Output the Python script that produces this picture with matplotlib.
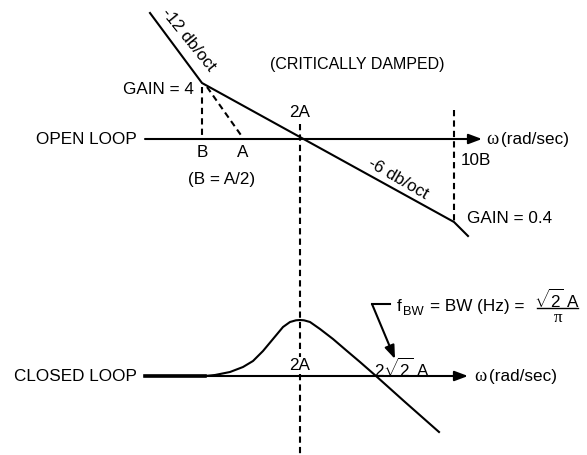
import matplotlib
matplotlib.use("Agg")
import matplotlib.pyplot as plt

plt.rcParams['font.family'] = ['Liberation Sans', 'DejaVu Sans']
plt.rcParams['mathtext.fontset'] = 'custom'
plt.rcParams['mathtext.rm'] = 'Liberation Sans'
plt.rcParams['mathtext.it'] = 'Liberation Sans'

# diagram laid out in pixel space (x right, y down)
open_axis_y = 140
closed_axis_y = 377
axis_start_x = 145
open_arrow_x = 482
closed_arrow_x = 468

# open loop asymptotes: -12 db/oct then -6 db/oct
open_x = [150, 202, 454, 468]
open_y = [14, 84, 223, 237]

# closed loop response
closed_x = [145, 205, 215, 230, 243, 253, 263, 273, 283, 290, 296, 300, 304, 310,
            320, 333, 347, 360, 376, 405, 439]
closed_y = [377, 377, 376, 373, 368, 362, 352, 340, 328, 323, 321.3, 321, 321.3, 323,
            330, 340, 352, 363, 377, 403, 433]

b_x, a_x, two_a_x, ten_b_x = 202, 243, 300, 454

FS = 12.3
lw = 1.5
dash = (0, (3, 2))

fig = plt.figure(figsize=(5.87, 4.56), dpi=100)
ax = fig.add_axes([0, 0, 1, 1])
ax.set_xlim(0, 587)
ax.set_ylim(456, 0)
ax.axis('off')

arrow = dict(arrowstyle='-|>,head_length=0.8,head_width=0.3', color='black', lw=lw,
             shrinkA=0, shrinkB=0)
white_box = dict(facecolor='white', edgecolor='none', pad=0.5)

# ---- open loop ----
ax.text(137, open_axis_y, "OPEN LOOP", fontsize=FS, ha='right', va='center')
ax.annotate("", xy=(open_arrow_x, open_axis_y), xytext=(axis_start_x, open_axis_y), arrowprops=arrow)
ax.text(486, open_axis_y, "ω", fontsize=FS + 1, family='Liberation Serif', ha='left', va='center')
ax.text(501, open_axis_y, "(rad/sec)", fontsize=FS, ha='left', va='center')

ax.plot(open_x, open_y, color='black', lw=lw, solid_joinstyle='miter')
ax.plot([b_x, b_x], [88, open_axis_y], color='black', lw=lw, linestyle=dash)
ax.plot([207, a_x], [88, open_axis_y - 1], color='black', lw=lw, linestyle=dash)
ax.plot([ten_b_x, ten_b_x], [111, open_y[2]], color='black', lw=lw, linestyle=dash)
ax.plot([two_a_x, two_a_x], [125, 456], color='black', lw=lw, linestyle=dash)

ax.text(b_x, 153, "B", fontsize=FS, ha='center', va='center')
ax.text(a_x, 153, "A", fontsize=FS, ha='center', va='center')
ax.text(222, 180, "(B = A/2)", fontsize=FS, ha='center', va='center')
ax.text(194, 89, "GAIN = 4", fontsize=FS, ha='right', va='center')
ax.text(188, 40, "-12 db/oct", fontsize=FS, ha='center', va='center', rotation=-51,
        rotation_mode='anchor')
ax.text(357, 65, "(CRITICALLY DAMPED)", fontsize=FS - 0.8, ha='center', va='center')
ax.text(two_a_x, 113, "2A", fontsize=FS, ha='center', va='center')
ax.text(398, 179, "-6 db/oct", fontsize=FS, ha='center', va='center', rotation=-30,
        rotation_mode='anchor')
ax.text(461, 161, "10B", fontsize=FS, ha='left', va='center')
ax.text(467, 219, "GAIN = 0.4", fontsize=FS, ha='left', va='center')

# ---- closed loop ----
ax.text(137, closed_axis_y, "CLOSED LOOP", fontsize=FS, ha='right', va='center')
ax.annotate("", xy=(closed_arrow_x, closed_axis_y), xytext=(axis_start_x, closed_axis_y), arrowprops=arrow)
ax.plot([axis_start_x, closed_x[1]], [closed_axis_y, closed_axis_y], color='black', lw=2.6)
ax.text(474, closed_axis_y, "ω", fontsize=FS + 1, family='Liberation Serif', ha='left', va='center')
ax.text(489, closed_axis_y, "(rad/sec)", fontsize=FS, ha='left', va='center')

ax.plot(closed_x, closed_y, color='black', lw=lw, solid_joinstyle='round')
ax.text(two_a_x, 366, "2A", fontsize=FS, ha='center', va='center', bbox=white_box, zorder=5)
ax.text(402, 368, r"2$\sqrt{2}$ A", fontsize=FS, ha='center', va='center')

# bandwidth callout
ax.plot([372, 390], [305, 305], color='black', lw=lw)
ax.annotate("", xy=(395, 360), xytext=(372, 305), arrowprops=arrow)
ax.text(397, 307, "f", fontsize=FS, ha='left', va='center')
ax.text(403, 312, "BW", fontsize=FS - 3, ha='left', va='center')
ax.text(430, 307, "= BW (Hz) =", fontsize=FS, ha='left', va='center')
ax.text(557, 299, r"$\sqrt{2}$ A", fontsize=FS, ha='center', va='center')
ax.plot([537, 578], [309, 309], color='black', lw=1.0)
ax.text(558, 318, "π", fontsize=FS, family='Liberation Serif', ha='center', va='center')

fig.savefig("out.png", dpi=100)
